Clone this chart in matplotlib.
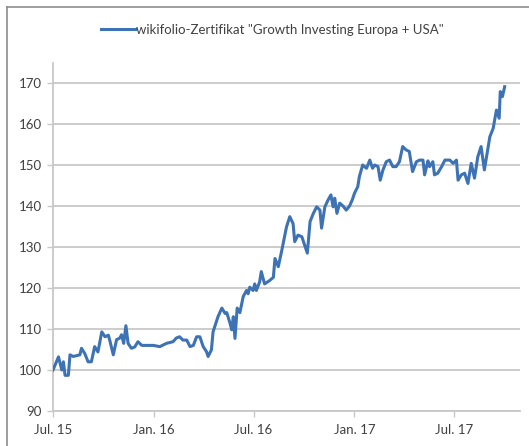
import matplotlib
matplotlib.use("Agg")
import matplotlib.pyplot as plt
from matplotlib.lines import Line2D
import pandas as pd

series_name = 'wikifolio-Zertifikat "Growth Investing Europa + USA"'

dates = [
    "2015-07-01", "2015-07-11", "2015-07-17", "2015-07-20", "2015-07-23", "2015-07-29",
    "2015-08-01", "2015-08-07", "2015-08-19", "2015-08-22", "2015-08-28", "2015-09-03",
    "2015-09-09", "2015-09-15", "2015-09-21", "2015-09-28", "2015-10-04", "2015-10-10",
    "2015-10-13", "2015-10-19", "2015-10-25", "2015-10-31", "2015-11-03", "2015-11-07",
    "2015-11-11", "2015-11-15", "2015-11-21", "2015-11-27", "2015-12-03", "2015-12-10",
    "2015-12-19", "2015-12-31", "2016-01-12", "2016-01-24", "2016-02-05", "2016-02-11",
    "2016-02-17", "2016-02-23", "2016-03-01", "2016-03-07", "2016-03-13", "2016-03-19",
    "2016-03-25", "2016-03-31", "2016-04-06", "2016-04-09", "2016-04-15", "2016-04-18",
    "2016-04-27", "2016-05-04", "2016-05-10", "2016-05-13", "2016-05-19", "2016-05-22",
    "2016-05-25", "2016-05-28", "2016-06-01", "2016-06-06", "2016-06-12", "2016-06-18",
    "2016-06-21", "2016-06-24", "2016-06-30", "2016-07-03", "2016-07-06", "2016-07-12",
    "2016-07-15", "2016-07-21", "2016-07-30", "2016-08-06", "2016-08-09", "2016-08-15",
    "2016-08-21", "2016-08-27", "2016-08-30", "2016-09-05", "2016-09-11", "2016-09-14",
    "2016-09-20", "2016-09-27", "2016-10-03", "2016-10-07", "2016-10-12", "2016-10-18",
    "2016-10-24", "2016-10-30", "2016-11-02", "2016-11-08", "2016-11-14", "2016-11-19",
    "2016-11-23", "2016-11-26", "2016-11-30", "2016-12-05", "2016-12-11", "2016-12-17",
    "2016-12-23", "2016-12-28", "2017-01-01", "2017-01-07", "2017-01-10", "2017-01-16",
    "2017-01-23", "2017-01-29", "2017-02-03", "2017-02-07", "2017-02-13", "2017-02-17",
    "2017-02-22", "2017-02-28", "2017-03-06", "2017-03-12", "2017-03-18", "2017-03-24",
    "2017-03-30", "2017-04-05", "2017-04-11", "2017-04-17", "2017-04-24", "2017-04-30",
    "2017-05-06", "2017-05-09", "2017-05-15", "2017-05-18", "2017-05-24", "2017-05-27",
    "2017-06-02", "2017-06-09", "2017-06-15", "2017-06-24", "2017-06-30", "2017-07-06",
    "2017-07-09", "2017-07-15", "2017-07-21", "2017-07-27", "2017-08-02", "2017-08-08",
    "2017-08-14", "2017-08-20", "2017-08-26", "2017-09-01", "2017-09-05", "2017-09-11",
    "2017-09-17", "2017-09-22", "2017-09-24", "2017-09-28", "2017-10-02",
]

values = [
    100.0, 103.2, 100.0, 102.0, 98.7, 98.7,
    103.7, 103.3, 103.7, 105.3, 104.0, 102.0,
    102.0, 105.7, 104.4, 109.3, 108.1, 108.5,
    107.0, 103.7, 107.4, 107.8, 108.6, 106.5,
    110.8, 106.5, 105.3, 105.6, 106.9, 106.0,
    106.0, 106.0, 105.7, 106.5, 106.9, 107.8,
    108.1, 107.3, 107.3, 105.7, 106.0, 108.1,
    108.1, 105.7, 104.5, 103.3, 104.9, 109.3,
    113.0, 115.1, 113.8, 114.0, 111.4, 109.8,
    113.0, 107.7, 115.1, 114.0, 117.9, 119.4,
    118.6, 120.2, 119.4, 121.0, 119.4, 121.5,
    124.0, 121.0, 121.8, 122.6, 127.2, 125.2,
    128.9, 132.9, 134.9, 137.4, 135.7, 131.3,
    132.9, 132.5, 130.1, 128.5, 136.2, 138.2,
    139.8, 139.0, 134.6, 139.8, 141.5, 142.7,
    139.8, 141.9, 138.2, 140.7, 140.0, 139.0,
    140.0, 141.5, 143.1, 144.7, 147.2, 150.0,
    149.2, 151.2, 149.2, 150.0, 149.6, 146.3,
    148.8, 150.8, 151.2, 149.6, 149.6, 150.8,
    154.5, 153.7, 153.3, 148.4, 150.8, 151.2,
    151.2, 147.6, 151.0, 149.6, 150.8, 147.6,
    148.0, 149.6, 151.2, 151.2, 150.4, 151.2,
    146.3, 147.6, 148.0, 145.5, 150.4, 146.8,
    152.0, 154.5, 148.8, 153.7, 156.9, 158.9,
    163.4, 161.4, 167.9, 166.7, 169.1,
]

tick_dates = ["2015-07-01", "2016-01-01", "2016-07-01", "2017-01-01", "2017-07-01"]
tick_labels = ["Jul. 15", "Jan. 16", "Jul. 16", "Jan. 17", "Jul. 17"]
y_ticks = [90, 100, 110, 120, 130, 140, 150, 160, 170]

plt.rcParams['font.family'] = ['Lato', 'DejaVu Sans']

W, H = 529, 446
fig = plt.figure(figsize=(W / 100, H / 100), dpi=100)
ax = fig.add_axes([53 / W, 1 - 411 / H, (520 - 53) / W, (411 - 62.5) / H])

x = pd.to_datetime(dates)
line_color = '#3d73b5'
ax.plot(x, values, color=line_color, lw=2.2, solid_joinstyle='round', zorder=3)

ax.set_ylim(90, 175)
ax.set_yticks(y_ticks)
ax.set_xlim(pd.Timestamp("2015-07-01"), pd.Timestamp("2017-10-30"))
ax.set_xticks(pd.to_datetime(tick_dates))
ax.set_xticklabels(tick_labels)

grid_c = '#c8c8c8'
ax.grid(axis='y', color=grid_c, lw=1.3)
ax.set_axisbelow(True)
for s in ['top', 'right']:
    ax.spines[s].set_visible(False)
ax.spines['left'].set_color(grid_c)
ax.spines['bottom'].set_color(grid_c)
ax.spines['left'].set_linewidth(1.3)
ax.spines['bottom'].set_linewidth(1.3)
ax.tick_params(axis='both', colors=grid_c, length=4, width=1.0,
               labelcolor='#404040', labelsize=9.5)
ax.tick_params(axis='x', pad=5)
ax.tick_params(axis='y', pad=4)

# legend
leg_handle = Line2D([], [], color=line_color, lw=2.2)
fig.legend([leg_handle], [series_name], loc='center', bbox_to_anchor=(0.515, 1 - 30 / H),
           frameon=False, fontsize=9.5, handlelength=2.6, handletextpad=0.1,
           labelcolor='#404040')

# figure border (top and left)
fig.add_artist(Line2D([7 / W, 7 / W], [0, 1 - 7 / H], transform=fig.transFigure,
                      color='#8c8c8c', lw=1.2))
fig.add_artist(Line2D([7 / W, 1], [1 - 7 / H, 1 - 7 / H], transform=fig.transFigure,
                      color='#8c8c8c', lw=1.2))

fig.savefig("out.png", dpi=100)
